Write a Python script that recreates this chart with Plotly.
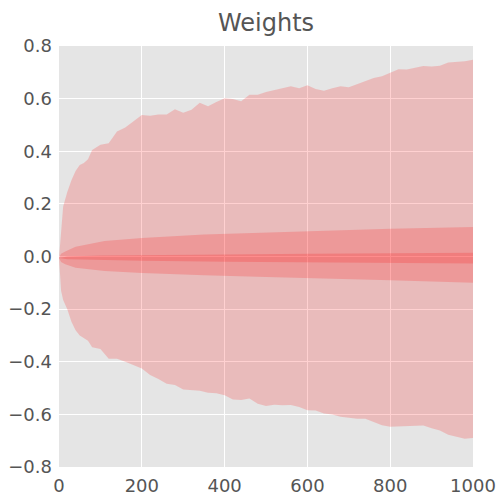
import plotly.graph_objects as go

# sample positions (iterations)
steps = [0, 5, 10, 20, 30, 40, 50, 60, 70, 80,
         100, 120, 140, 160, 180, 200, 220, 240, 260, 280,
         300, 320, 340, 360, 380, 400, 420, 440, 460, 480,
         500, 520, 540, 560, 580, 600, 620, 640, 660, 680,
         700, 720, 740, 760, 780, 800, 820, 840, 860, 880,
         900, 920, 940, 960, 980, 1000]

w_max = [-0.006, 0.09, 0.19, 0.245, 0.29, 0.325, 0.348, 0.355, 0.37, 0.405,
         0.425, 0.43, 0.475, 0.49, 0.515, 0.538, 0.535, 0.54, 0.54, 0.56,
         0.546, 0.558, 0.584, 0.571, 0.587, 0.601, 0.599, 0.59, 0.615, 0.615,
         0.625, 0.633, 0.64, 0.647, 0.639, 0.651, 0.637, 0.63, 0.639, 0.647,
         0.643, 0.655, 0.667, 0.678, 0.685, 0.699, 0.712, 0.711, 0.718, 0.724,
         0.722, 0.725, 0.737, 0.74, 0.742, 0.748]

w_min = [-0.006, -0.13, -0.165, -0.20, -0.248, -0.28, -0.30, -0.31, -0.32, -0.345,
         -0.352, -0.389, -0.389, -0.40, -0.412, -0.426, -0.45, -0.466, -0.484, -0.488,
         -0.505, -0.507, -0.51, -0.518, -0.52, -0.527, -0.543, -0.545, -0.54, -0.56,
         -0.568, -0.563, -0.565, -0.564, -0.572, -0.584, -0.585, -0.597, -0.60, -0.609,
         -0.614, -0.617, -0.617, -0.629, -0.641, -0.647, -0.644, -0.644, -0.643, -0.642,
         -0.653, -0.661, -0.677, -0.686, -0.693, -0.69]

# std band
std_steps = [0, 5, 15, 40, 110, 200, 350, 500, 650, 800, 1000]
std_hi = [-0.006, 0.010, 0.019, 0.037, 0.059, 0.070, 0.084, 0.091, 0.099, 0.105, 0.112]
std_lo = [-0.006, -0.021, -0.029, -0.043, -0.055, -0.063, -0.071, -0.078, -0.085, -0.090, -0.100]

# inner band
in_steps = [0, 20, 100, 200, 400, 600, 800, 1000]
in_hi = [-0.006, 0.0, 0.004, 0.006, 0.008, 0.010, 0.012, 0.014]
in_lo = [-0.006, -0.010, -0.014, -0.016, -0.020, -0.023, -0.025, -0.027]

band_color = "rgba(255,0,0,0.18)"

fig = go.Figure()
for xs, hi, lo in [(steps, w_max, w_min), (std_steps, std_hi, std_lo), (in_steps, in_hi, in_lo)]:
    fig.add_trace(go.Scatter(
        x=xs + xs[::-1], y=hi + lo[::-1],
        fill="toself", fillcolor=band_color, mode="lines",
        line=dict(width=0), hoverinfo="skip", showlegend=False))

fig.update_layout(
    width=500, height=500,
    margin=dict(l=59, r=27, t=46, b=33),
    paper_bgcolor="white", plot_bgcolor="#E5E5E5",
    font=dict(family="DejaVu Sans", color="#555555", size=18),
    title=dict(text="Weights", x=0.532, xanchor="center", y=0.955, yanchor="middle",
               font=dict(size=24, color="#555555")),
)
fig.update_xaxes(range=[0, 1000], dtick=200, showgrid=True, gridcolor="white", gridwidth=1,
                 zeroline=False, showline=False, ticks="", ticklabelstandoff=6,
                 automargin=False, tickfont=dict(size=18, color="#555555"))
fig.update_yaxes(range=[-0.8, 0.8], dtick=0.2, tickformat=".1f", showgrid=True, gridcolor="white",
                 gridwidth=1, zeroline=False, showline=False, ticks="", ticklabelstandoff=6,
                 automargin=False, tickfont=dict(size=18, color="#555555"))

# page body has a default 8px margin; drop it so the figure sits at the corner
fig.write_html("out.html", config={"displayModeBar": False},
               post_script="document.body.style.margin='0';")
